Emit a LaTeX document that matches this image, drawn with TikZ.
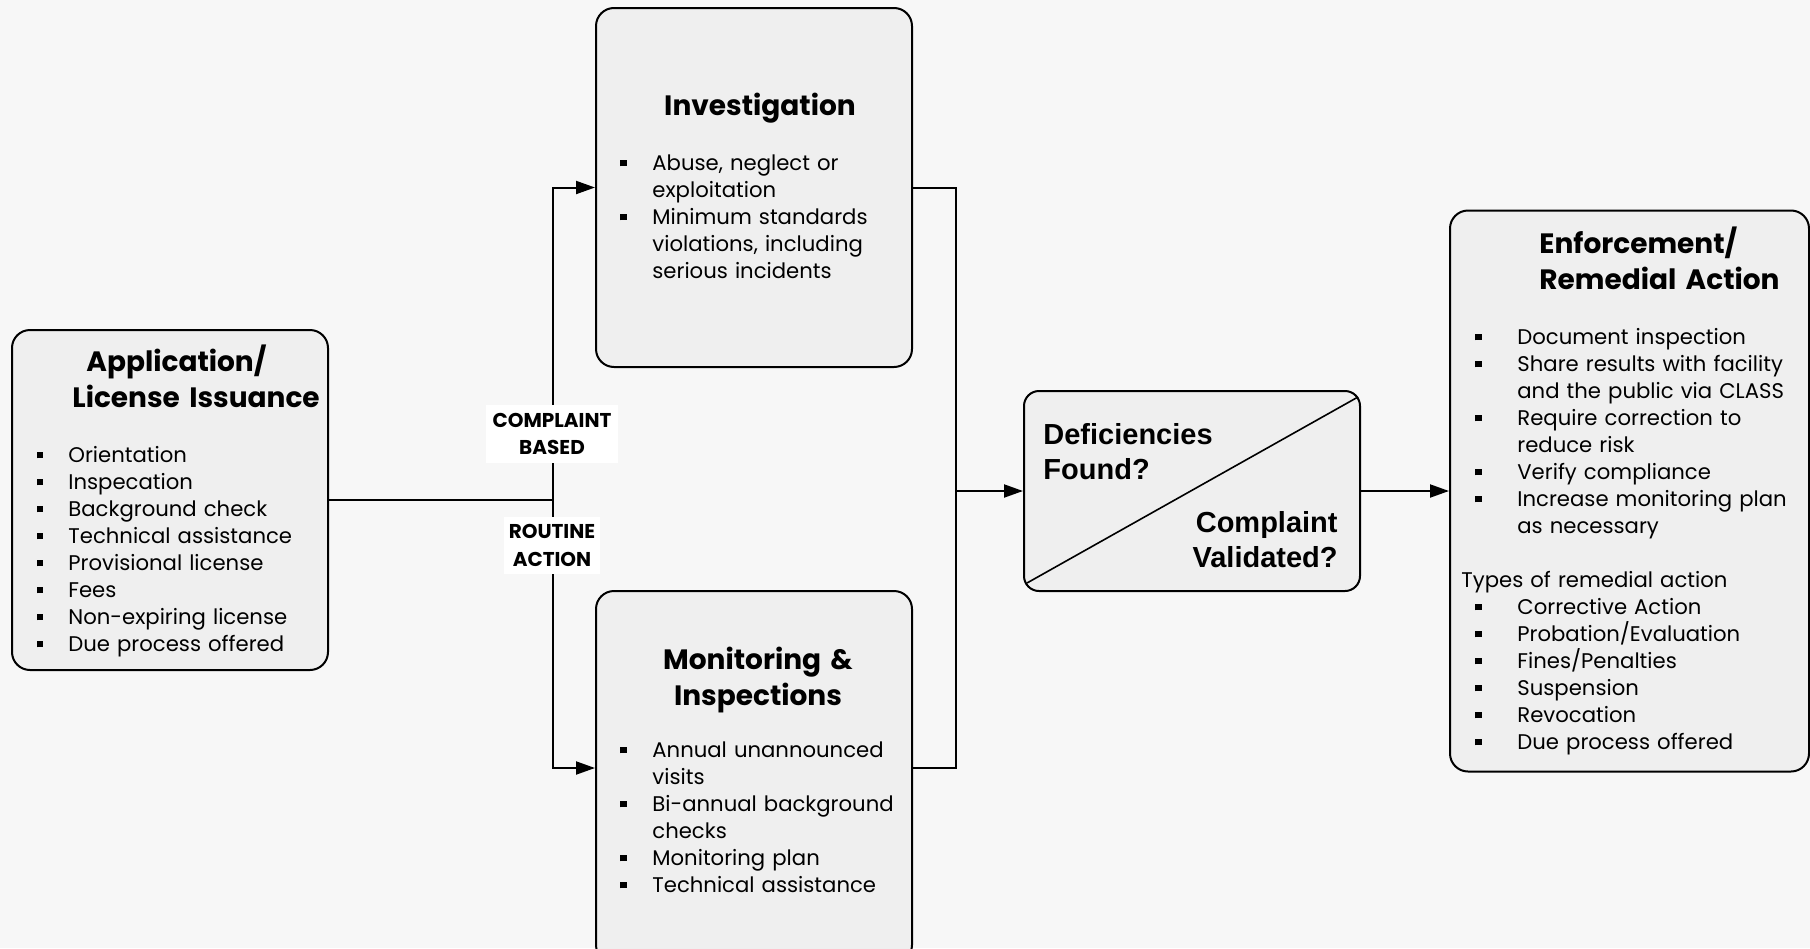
\documentclass[tikz,border=0pt]{standalone}
\usepackage{fontspec}
\setmainfont{Poppins}
\newfontfamily\arialf{Liberation Sans}
\usetikzlibrary{arrows.meta,calc}
\definecolor{bgc}{HTML}{F7F7F7}
\definecolor{boxc}{HTML}{EFEFEF}
\newcommand{\bi}[2]{\makebox[#1][l]{\rule[2.1pt]{3.2pt}{3.2pt}}#2}
\newcommand{\ci}[2]{\hspace*{#1}#2}
\tikzset{
  stage/.style={draw=black, line width=1pt, fill=boxc, rounded corners=9pt, inner sep=0pt},
  dbox/.style={draw=black, line width=1pt, fill=boxc, rounded corners=7.5pt, inner sep=0pt},
  conn/.style={draw=black, line width=1pt},
  arr/.style={conn, -{Triangle[length=9.5pt,width=6.5pt]}},
  ttl/.style={inner sep=0pt, font=\bfseries\fontsize{14}{18}\selectfont},
  lst/.style={inner sep=0pt, align=left, font=\fontsize{10.6}{13.5}\selectfont},
  lbl/.style={fill=white, inner sep=0pt, align=center, font=\bfseries\fontsize{10}{13.75}\selectfont},
  dtxt/.style={inner sep=0pt, font=\arialf\bfseries\fontsize{14.5}{17.5}\selectfont}
}
\begin{document}
\begin{tikzpicture}[x=0.5pt, y=-0.5pt]
\fill[bgc] (0,0) rectangle (1810,948);
\useasboundingbox (0,0) rectangle (1810,948);

% boxes
\node[stage, minimum width=158pt, minimum height=170pt] (app) at (170,500) {};
\node[stage, minimum width=158pt, minimum height=179.5pt] (inv) at (754,187.5) {};
\node[stage, minimum width=158pt, minimum height=186pt] (mon) at (754,777) {};
\node[dbox, minimum width=168pt, minimum height=100pt] (dec) at (1192,491) {};
\node[stage, minimum width=179.5pt, minimum height=280.5pt] (enf) at (1629.5,491) {};
\coordinate (monin) at ($(mon.north west)+(0,178)$);
\coordinate (monout) at ($(mon.north east)+(0,178)$);

% titles
\node[ttl, anchor=base west, align=left, text width=150pt] (appt) at (72,371.5) {\hspace*{7pt}Application/\\License Issuance};
\node[ttl, anchor=base] (invt) at (760,115.5) {Investigation};
\node[ttl, anchor=base, align=center, text width=160pt] (mont) at (758,669.5) {Monitoring \&\\Inspections};
\node[ttl, anchor=base west, align=left, text width=140pt] (enft) at (1539,253.5) {Enforcement/\\Remedial Action};

% lists
\node[lst, anchor=base west, text width=140pt] (appl) at (36.5,462.5) {%
\bi{15.75pt}{Orientation}\\
\bi{15.75pt}{Inspecation}\\
\bi{15.75pt}{Background check}\\
\bi{15.75pt}{Technical assistance}\\
\bi{15.75pt}{Provisional license}\\
\bi{15.75pt}{Fees}\\
\bi{15.75pt}{Non-expiring license}\\
\bi{15.75pt}{Due process offered}};

\node[lst, anchor=base west, text width=140pt] (invl) at (620,170.5) {%
\bi{16pt}{Abuse, neglect or}\\
\ci{16pt}{exploitation}\\
\bi{16pt}{Minimum standards}\\
\ci{16pt}{violations, including}\\
\ci{16pt}{serious incidents}};

\node[lst, anchor=base west, text width=140pt] (monl) at (620,757.5) {%
\bi{16pt}{Annual unannounced}\\
\ci{16pt}{visits}\\
\bi{16pt}{Bi-annual background}\\
\ci{16pt}{checks}\\
\bi{16pt}{Monitoring plan}\\
\bi{16pt}{Technical assistance}};

\node[lst, anchor=base west, text width=170pt] (enfl) at (1475,344.5) {%
\bi{21pt}{Document inspection}\\
\bi{21pt}{Share results with facility}\\
\ci{21pt}{and the public via CLASS}\\
\bi{21pt}{Require correction to}\\
\ci{21pt}{reduce risk}\\
\bi{21pt}{Verify compliance}\\
\bi{21pt}{Increase monitoring plan}\\
\ci{21pt}{as necessary}\\[13.5pt]
\hspace*{-7pt}Types of remedial action\\
\bi{21pt}{Corrective Action}\\
\bi{21pt}{Probation/Evaluation}\\
\bi{21pt}{Fines/Penalties}\\
\bi{21pt}{Suspension}\\
\bi{21pt}{Revocation}\\
\bi{21pt}{Due process offered}};

% decision
\coordinate (dbl) at ($(dec.south west)+(4,-9)$);
\coordinate (dtr) at ($(dec.north east)+(-3,7)$);
\draw[conn, line width=0.8pt] (dbl) -- (dtr);
\node[dtxt, anchor=west, align=left] (dq1) at (1043,452) {Deficiencies\\Found?};
\node[dtxt, anchor=east, align=right] (dq2) at (1338,540) {Complaint\\Validated?};

% connectors
\coordinate (jl) at (553,500);
\coordinate (jr) at (956,491);
\draw[conn] (app.east) -- (jl);
\draw[arr] (jl) |- (inv.west);
\draw[arr] (jl) |- (monin);
\draw[conn] (inv.east) -| (jr);
\draw[conn] (monout) -| (jr);
\draw[arr] (jr) -- (dec.west);
\draw[arr] (dec.east) -- (enf.west);

% labels
\node[lbl, minimum width=66pt, minimum height=29pt] (cb) at (552,434) {COMPLAINT\\BASED};
\node[lbl, minimum width=48pt, minimum height=28.5pt] (ra) at (552,545.5) {ROUTINE\\ACTION};
\end{tikzpicture}
\end{document}
